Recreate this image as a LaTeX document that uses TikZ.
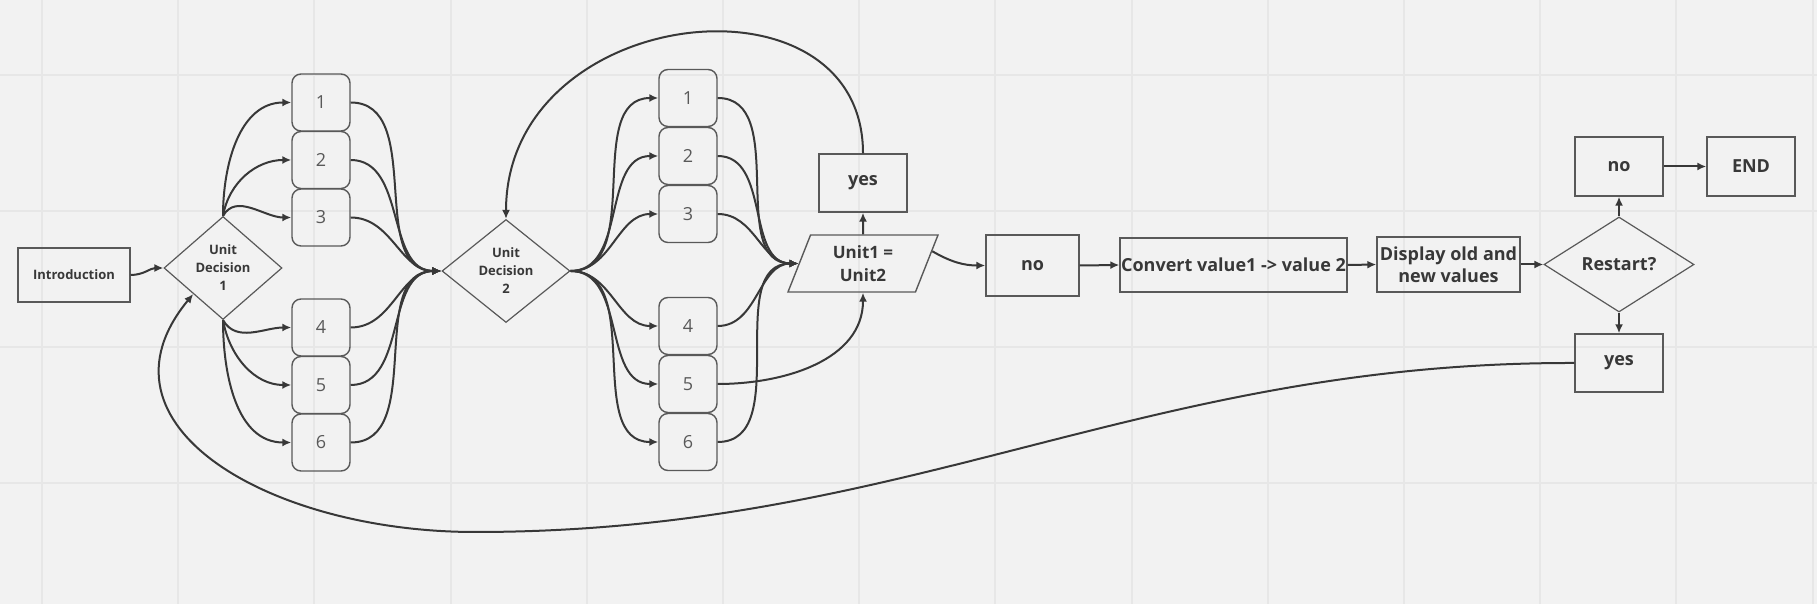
\documentclass[tikz,border=0pt]{standalone}
\usepackage{fontspec}
\setmainfont{Open Sans}
\usetikzlibrary{shapes.geometric,arrows.meta}
\definecolor{paper}{HTML}{F2F2F2}
\definecolor{gridline}{HTML}{E7E7E7}
\definecolor{ink}{HTML}{383838}
\definecolor{edge}{HTML}{595959}
\begin{document}
\begin{tikzpicture}[x=1pt,y=1pt]
\tikzstyle{box}=[draw=edge,line width=1.4pt,rectangle,inner sep=1pt,align=center,text=ink,font=\bfseries\fontsize{18}{22}\selectfont]
\tikzstyle{num}=[draw=edge,line width=1.4pt,rectangle,rounded corners=9pt,minimum width=58pt,minimum height=57pt,text=edge,font=\fontsize{18}{22}\selectfont]
\tikzstyle{choice}=[draw=edge,line width=1.2pt,diamond,inner sep=0pt,align=center,text=ink]
\tikzstyle{link}=[draw=ink,line width=2pt,-{Latex[length=9pt,width=8pt]}]

\useasboundingbox (0,0) rectangle (1817,604);
\fill[paper] (0,0) rectangle (1817,604);
\foreach \x in {0,...,13} \draw[gridline,line width=2pt] (42+136.2*\x,0) -- (42+136.2*\x,604);
\foreach \y in {0,...,3} \draw[gridline,line width=2pt] (0,529-136*\y) -- (1817,529-136*\y);

\node[box,minimum width=112pt,minimum height=54pt,font=\bfseries\fontsize{13}{18}\selectfont] at (74,329) (intro) {Introduction};
\node[choice,minimum width=118pt,minimum height=103pt,font=\bfseries\fontsize{13}{18}\selectfont] at (223,336) (d1) {Unit\\Decision\\1};

\node[num] at (321,501.5) (a1) {1};
\node[num] at (321,444) (a2) {2};
\node[num] at (321,386.5) (a3) {3};
\node[num] at (321,276.5) (a4) {4};
\node[num] at (321,219) (a5) {5};
\node[num] at (321,161.5) (a6) {6};

\node[choice,minimum width=128pt,minimum height=103pt,font=\bfseries\fontsize{13}{18}\selectfont] at (506,333) (d2) {Unit\\Decision\\2};

\node[num] at (688,506) (b1) {1};
\node[num] at (688,448) (b2) {2};
\node[num] at (688,390) (b3) {3};
\node[num] at (688,278) (b4) {4};
\node[num] at (688,220) (b5) {5};
\node[num] at (688,162) (b6) {6};

\node[box,trapezium,trapezium left angle=58,trapezium right angle=122,trapezium stretches body,minimum width=150pt,minimum height=57pt,inner sep=0pt,font=\bfseries\fontsize{17}{23}\selectfont] at (863,340.5) (uu) {Unit1 =\\Unit2};
\node[box,minimum width=88pt,minimum height=58pt] at (863,421) (ys) {yes};
\node[box,minimum width=93pt,minimum height=61pt] at (1032.5,338.5) (no) {no};
\node[box,minimum width=227pt,minimum height=54pt] at (1233.5,339) (cv) {Convert value1 -> value 2};
\node[box,minimum width=143pt,minimum height=55pt] at (1448.5,339.5) (dp) {Display old and\\new values};
\node[box,choice,minimum width=150pt,minimum height=95pt] at (1619,339.5) (rs) {Restart?};
\node[box,minimum width=88pt,minimum height=59pt] at (1619,437.5) (nr) {no};
\node[box,minimum width=88pt,minimum height=59pt] at (1751,437.5) (en) {END};
\node[box,minimum width=88pt,minimum height=58pt] at (1619,241) (yr) {yes};
\coordinate (low) at (475,72);

\draw[link] (intro.east) to[out=0,in=180] (d1.west);
\draw[link] (d1.north) to[out=90,in=180] (a1.west);
\draw[link] (d1.north) to[out=80,in=180] (a2.west);
\draw[link] (d1.north) to[out=60,in=180] (a3.west);
\draw[link] (d1.south) to[out=-60,in=180] (a4.west);
\draw[link] (d1.south) to[out=-80,in=180] (a5.west);
\draw[link] (d1.south) to[out=-90,in=180] (a6.west);

\draw[link] (a1.east) to[out=0,in=180] (d2.west);
\draw[link] (a2.east) to[out=0,in=180] (d2.west);
\draw[link] (a3.east) to[out=0,in=180] (d2.west);
\draw[link] (a4.east) to[out=0,in=180] (d2.west);
\draw[link] (a5.east) to[out=0,in=180] (d2.west);
\draw[link] (a6.east) to[out=0,in=180] (d2.west);

\draw[link] (d2.east) to[out=0,in=180] (b1.west);
\draw[link] (d2.east) to[out=0,in=180] (b2.west);
\draw[link] (d2.east) to[out=0,in=180] (b3.west);
\draw[link] (d2.east) to[out=0,in=180] (b4.west);
\draw[link] (d2.east) to[out=0,in=180] (b5.west);
\draw[link] (d2.east) to[out=0,in=180] (b6.west);

\draw[link] (b1.east) to[out=0,in=180] (uu.west);
\draw[link] (b2.east) to[out=0,in=180] (uu.west);
\draw[link] (b3.east) to[out=0,in=180] (uu.west);
\draw[link] (b4.east) to[out=0,in=180] (uu.west);
\draw[link] (b6.east) to[out=0,in=180] (uu.west);
\draw[link] (b5.east) to[out=0,in=-90] (uu.south);

\draw[link] (uu.north) -- (ys.south);
\draw[link] (ys.north) .. controls (863,640) and (506,600) .. (d2.north);
\draw[link] (uu.10) to[out=-30,in=180] (no.west);
\draw[link] (no.east) -- (cv.west);
\draw[link] (cv.east) -- (dp.west);
\draw[link] (dp.east) -- (rs.west);
\draw[link] (rs.north) -- (nr.south);
\draw[link] (nr.east) -- (en.west);
\draw[link] (rs.south) -- (yr.north);
\draw[link] (yr.west) .. controls (1140,242) and (911,72) .. (low) .. controls (270,72) and (85,179) .. (d1.south west);
\end{tikzpicture}
\end{document}
